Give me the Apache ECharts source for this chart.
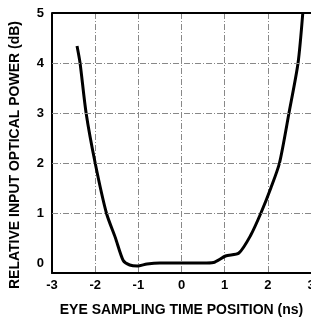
<!DOCTYPE html>
<html>
<head>
<meta charset="utf-8">
<script src="https://cdn.jsdelivr.net/npm/echarts@6/dist/echarts.min.js"></script>
<style>
	html,body{margin:0;padding:0;background:#fff;}
	#main{width:311px;height:319px;}
</style>
</head>
<body>
<div id="main"></div>
<script>
// eye sampling time (ns) vs relative power (dB)
var timePos = [-2.42, -2.35, -2.21, -2.0, -1.74, -1.53, -1.35, -1.2, -1.02, -0.8, -0.5, 0, 0.5, 0.74, 1.02, 1.33, 1.6, 1.84, 2.07, 2.27, 2.49, 2.70, 2.81]
var relPower = [4.34, 4.0, 3.0, 2.0, 1.0, 0.5, 0.05, -0.04, -0.06, -0.02, 0.0, 0.0, 0.0, 0.01, 0.14, 0.2, 0.55, 1.0, 1.5, 2.0, 3.0, 4.0, 5.0]
var yTicks = [0, 1, 2, 3, 4, 5]

var chart = echarts.init(document.getElementById('main'))
var pts = []
for (var i = 0; i < timePos.length; i++) {
	pts.push([timePos[i], relPower[i]])
}
var gridLine = {
	show: true,
	lineStyle: { color: '#888', width: 1, type: [6, 2, 1, 2] }
}
var font = { fontFamily: 'Liberation Sans', fontWeight: 'bold', fontSize: 13, color: '#000' }

var option = {
	animation: false,
	grid: { left: 52, right: 0, top: 13, bottom: 46, outerBoundsMode: 'none' },
	xAxis: {
		type: 'value',
		min: -3, max: 3, interval: 1,
		name: 'EYE SAMPLING TIME POSITION (ns)',
		nameLocation: 'middle',
		nameGap: 30,
		nameTextStyle: { fontFamily: 'Liberation Sans', fontWeight: 'bold', fontSize: 14, color: '#000' },
		axisLine: { show: true, onZero: false, lineStyle: { color: '#000', width: 2 } },
		axisTick: { show: false },
		axisLabel: Object.assign({ margin: 6 }, font),
		splitLine: gridLine
	},
	yAxis: {
		type: 'value',
		min: -0.2, max: 5,
		name: 'RELATIVE INPUT OPTICAL POWER (dB)',
		nameLocation: 'middle',
		nameGap: 30,
		nameTextStyle: { fontFamily: 'Liberation Sans', fontWeight: 'bold', fontSize: 14, color: '#000', padding: [0, 24, 0, 0] },
		axisLine: { show: true, onZero: false, lineStyle: { color: '#000', width: 2 } },
		axisTick: { show: false },
		axisLabel: Object.assign({
			margin: 8,
			customValues: yTicks
		}, font),
		splitLine: { show: false }
	},
	series: [
		{
			// horizontal grid lines at the y ticks
			type: 'line',
			data: [],
			markLine: {
				silent: true,
				symbol: 'none',
				label: { show: false },
				lineStyle: { color: '#888', width: 1, type: [6, 2, 1, 2] },
				data: yTicks.slice(1, 5).map(function (v) { return { yAxis: v } })
						.concat([{ yAxis: 5, lineStyle: { color: '#000', width: 2, type: 'solid' } }])
			}
		},
		{
			type: 'line',
			data: pts,
			smooth: 0.25,
			symbol: 'none',
			lineStyle: { color: '#000', width: 3 }
		}
	]
}
chart.setOption(option)
window.addEventListener('resize', function () {
	chart.resize()
})
</script>
</body>
</html>
